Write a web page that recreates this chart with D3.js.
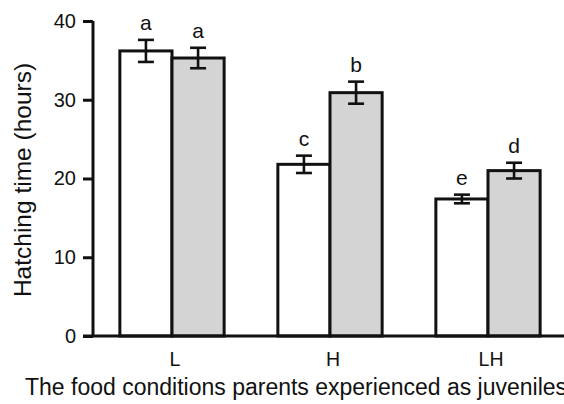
<!DOCTYPE html>
<html>
<head>
<meta charset="utf-8">
<script src="https://cdn.jsdelivr.net/npm/d3@7"></script>
<style>
  html, body { margin: 0; padding: 0; background: #fff; }
  svg { display: block; font-family: "Liberation Sans", Arial, sans-serif; }
</style>
</head>
<body>
<svg id="chart" width="564" height="404"></svg>
<script>
// Parental juvenile food condition groups
const categories = ["L", "H", "LH"];
// Two offspring treatments per group (white and grey bars)
const seriesNames = ["white", "grey"];
const whiteMeans = [36.2, 21.8, 17.4];
const greyMeans  = [35.3, 30.9, 21.0];
const whiteSE    = [1.4, 1.1, 0.55];
const greySE     = [1.3, 1.4, 1.0];
const whiteLetters = ["a", "c", "e"];
const greyLetters  = ["a", "b", "d"];
const yTicks = [0, 10, 20, 30, 40];

const svg = d3.select("#chart");
const W = 564, H = 404;
const margin = { left: 93, top: 21, bottom: 68 };
const plotBottom = H - margin.bottom; // 336

const y = d3.scaleLinear().domain([0, 40]).range([plotBottom, margin.top]);

const x = d3.scaleBand().domain(categories).range([93, 567]).paddingInner(0.34).paddingOuter(0.17);
const xs = d3.scaleBand().domain(seriesNames).range([0, x.bandwidth()]);

const rows = categories.map((c, i) => [
  { cat: c, s: "white", v: whiteMeans[i], se: whiteSE[i], lab: whiteLetters[i], fill: "#ffffff" },
  { cat: c, s: "grey",  v: greyMeans[i],  se: greySE[i],  lab: greyLetters[i],  fill: "#d4d4d4" }
]).flat();

// Bars
svg.append("g").selectAll("rect").data(rows).join("rect")
  .attr("x", d => x(d.cat) + xs(d.s))
  .attr("y", d => y(d.v))
  .attr("width", xs.bandwidth())
  .attr("height", d => y(0) - y(d.v))
  .attr("fill", d => d.fill)
  .attr("stroke", "#111")
  .attr("stroke-width", 3);

// Error bars
const eb = svg.append("g").attr("stroke", "#111").attr("stroke-width", 2.6);
rows.forEach(d => {
  const cx = x(d.cat) + xs(d.s) + xs.bandwidth() / 2;
  eb.append("line").attr("x1", cx).attr("x2", cx).attr("y1", y(d.v + d.se)).attr("y2", y(d.v - d.se));
  eb.append("line").attr("x1", cx - 8).attr("x2", cx + 8).attr("y1", y(d.v + d.se)).attr("y2", y(d.v + d.se));
  eb.append("line").attr("x1", cx - 8).attr("x2", cx + 8).attr("y1", y(d.v - d.se)).attr("y2", y(d.v - d.se));
});

// Significance letters
svg.append("g").selectAll("text").data(rows).join("text")
  .attr("x", d => x(d.cat) + xs(d.s) + xs.bandwidth() / 2)
  .attr("y", d => y(d.v + d.se) - 10)
  .attr("text-anchor", "middle")
  .attr("font-size", 21)
  .attr("fill", "#111")
  .text(d => d.lab);

// Y axis
const yAxis = svg.append("g").attr("transform", `translate(93,0)`)
  .call(d3.axisLeft(y).tickValues(yTicks).tickSize(10).tickPadding(7).tickSizeOuter(0));
yAxis.select(".domain").attr("stroke", "#111").attr("stroke-width", 3)
  .attr("d", `M0,${y(40)}V${y(0)}`);
yAxis.selectAll(".tick line").attr("stroke", "#111").attr("stroke-width", 3);
yAxis.selectAll(".tick text").attr("font-size", 20).attr("fill", "#111")
  .attr("font-family", "Liberation Sans, Arial, sans-serif");

// X axis baseline and category labels
svg.append("line").attr("x1", 83).attr("x2", W).attr("y1", y(0)).attr("y2", y(0))
  .attr("stroke", "#111").attr("stroke-width", 3);
svg.append("g").selectAll("text").data(categories).join("text")
  .attr("x", d => x(d) + x.bandwidth() / 2 + 3)
  .attr("y", 366)
  .attr("text-anchor", "middle")
  .attr("font-size", 19.5)
  .attr("fill", "#111")
  .text(d => d);

// Axis titles
svg.append("text")
  .attr("transform", `translate(31,180) rotate(-90)`)
  .attr("text-anchor", "middle")
  .attr("font-size", 24.5)
  .attr("fill", "#111")
  .text("Hatching time (hours)");

svg.append("text")
  .attr("x", 25).attr("y", 395)
  .attr("font-size", 23)
  .attr("fill", "#111")
  .text("The food conditions parents experienced as juveniles");
</script>
</body>
</html>
